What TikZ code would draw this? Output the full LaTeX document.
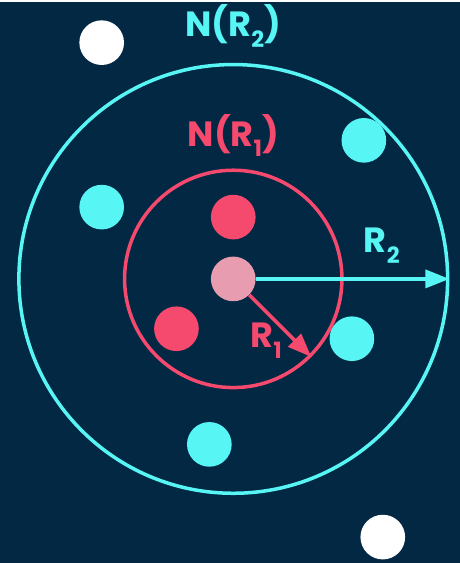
\documentclass[tikz,border=0pt]{standalone}
\usepackage{fontspec}
\setmainfont{Poppins}
\usetikzlibrary{arrows.meta}
\definecolor{navy}{RGB}{2,40,68}
\definecolor{aqua}{RGB}{88,245,245}
\definecolor{rose}{RGB}{245,73,110}
\definecolor{blush}{RGB}{232,156,176}
\newcommand{\lowsub}[1]{\raisebox{-0.3em}{\fontsize{16}{16}\selectfont #1}}

\begin{document}
\begin{tikzpicture}[
  x=0.025cm, y=-0.025cm,
  every node/.style={font=\fontsize{25}{30}\selectfont\bfseries},
  dot/.style={circle, minimum size=1.12cm, inner sep=0pt},
  ring/.style={circle, draw, line width=2.5pt, inner sep=0pt},
  arrow/.style={-{Triangle[length=6mm, width=4.5mm]}, line width=2.5pt}
]
\fill[navy] (0,0) rectangle (461,563);

% neighbourhoods
\node[ring, draw=aqua, minimum size=10.75cm] (outer) at (234,278) {};
\node[ring, draw=rose, minimum size=5.45cm] (inner) at (234,278) {};

% points
\node[dot, fill=blush] (center) at (234,278) {};
\node[dot, fill=rose] (ra) at (234,216) {};
\node[dot, fill=rose] (rb) at (177,328) {};
\node[dot, fill=aqua] (ca) at (365,139) {};
\node[dot, fill=aqua] (cb) at (102,206) {};
\node[dot, fill=aqua] (cc) at (353,338) {};
\node[dot, fill=aqua] (cd) at (210,444) {};
\node[dot, fill=white] (wa) at (102,41) {};
\node[dot, fill=white] (wb) at (384,537) {};

% radii
\draw[arrow, aqua] (center.east) -- (outer.east);
\draw[arrow, rose] (center.-45) -- (inner.-45);

% labels
\node[anchor=base, text=aqua] (lblouter) at (234,35) {N(R\lowsub{2})};
\node[anchor=base, text=rose] (lblinner) at (234,145) {N(R\lowsub{1})};
\node[anchor=base, text=aqua] (lblrtwo) at (383,252) {R\lowsub{2}};
\node[anchor=base, text=rose] (lblrone) at (267,347) {R\lowsub{1}};
\end{tikzpicture}
\end{document}
